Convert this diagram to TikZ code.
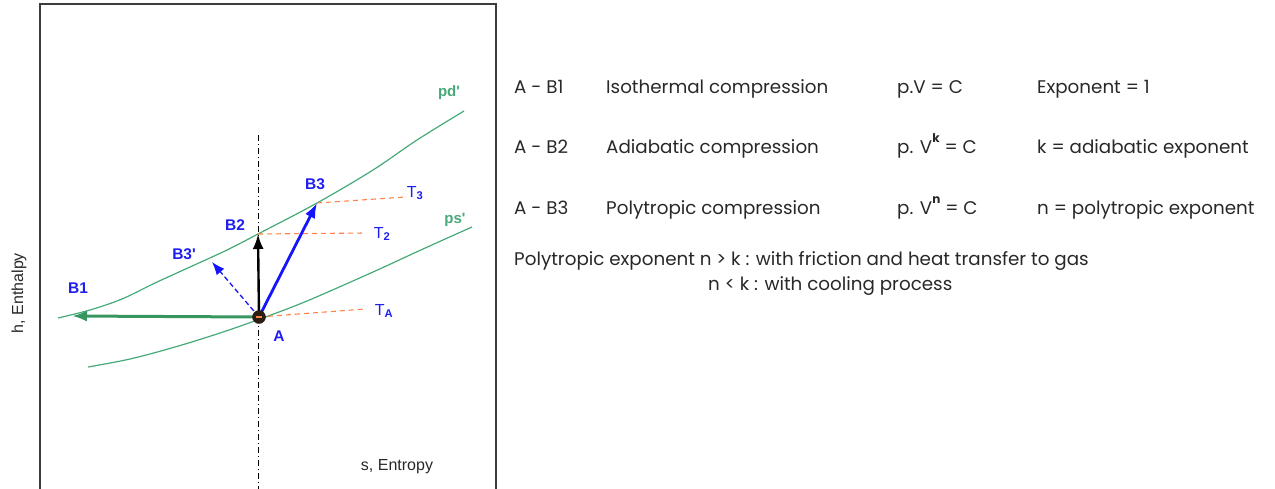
\documentclass[tikz,border=0pt]{standalone}
\usepackage{fontspec}
\usetikzlibrary{arrows.meta}
\newfontfamily\lgfont{Poppins}
\newfontfamily\arfont{Liberation Sans}
\definecolor{curvegreen}{RGB}{70,170,120}
\definecolor{arrgreen}{RGB}{55,150,95}
\definecolor{lblblue}{RGB}{30,30,240}
\definecolor{tblue}{RGB}{20,20,255}
\definecolor{dashorange}{RGB}{255,130,70}
\definecolor{boxgray}{RGB}{60,60,60}
\definecolor{legtext}{RGB}{40,40,40}
\definecolor{dotdark}{RGB}{45,30,20}
\newcommand{\hisup}[1]{\raisebox{0.55em}{\fontsize{12}{12}\selectfont\bfseries #1}}
\begin{document}
\begin{tikzpicture}[x=1pt,y=-1pt,
  curve/.style={curvegreen,line width=1.2pt},
  lbl/.style={font=\arfont\bfseries\fontsize{15.5}{15.5}\selectfont,text=lblblue,inner sep=0pt},
  glbl/.style={font=\arfont\bfseries\fontsize{15}{15}\selectfont,text=curvegreen,inner sep=0pt},
  tlbl/.style={font=\arfont\fontsize{16}{16}\selectfont,text=lblblue,inner sep=0pt},
  orangedash/.style={dashorange,line width=1.1pt,dash pattern=on 5pt off 4pt},
  leg/.style={font=\lgfont\fontsize{18.3}{18.3}\selectfont,text=legtext,anchor=base west,inner sep=0pt},
  axlbl/.style={font=\arfont\fontsize{16}{16}\selectfont,text=legtext,inner sep=0pt},
  tip/.style={-{Latex[length=15pt,width=11pt]}}
]
\useasboundingbox (0,0) rectangle (1275,488);
% frame
\draw[boxgray,line width=2.4pt] (40,490) -- (40,4) -- (496,4) -- (496,490);
% axis labels
\node[axlbl,rotate=90] (hlab) at (19,293) {h, Enthalpy};
\node[axlbl] (slab) at (397,467) {s, Entropy};
% vertical dash-dot line
\coordinate (vtop) at (258,135);
\coordinate (vbot) at (258,490);
\draw[black,line width=1pt,dash pattern=on 6pt off 3pt on 1pt off 3pt] (vtop) -- (vbot);
% curves
\draw[curve] plot[smooth,tension=0.55] coordinates {(58,318) (90,310) (122,299) (155,283) (190,267) (227,250) (258,234) (317,203) (373,170) (417,140) (464,111)};
\draw[curve] plot[smooth,tension=0.55] coordinates {(88,367) (130,359) (175,347) (220,333) (260,319) (307,301) (373,272) (423,249) (472,227)};
\node[glbl] (pd) at (449,93) {pd'};
\node[glbl] (ps) at (455,220) {ps'};
% points
\coordinate (B1) at (72,316);
\coordinate (B2) at (258,234);
\coordinate (B3) at (317,203);
\coordinate (B3p) at (212,262);
\coordinate (T3e) at (405,197);
\coordinate (T2e) at (365,233);
\coordinate (TAe) at (365,309);
\coordinate (Ac) at (259,317);
% orange dashed isotherms
\draw[orangedash] (B3) -- (T3e);
\draw[orangedash] (B2) -- (T2e);
\draw[orangedash] (Ac) -- (TAe);
% arrows
\draw[arrgreen,line width=3pt,tip] (Ac) -- (B1);
\draw[black,line width=2.4pt,tip] (Ac) -- (B2);
\draw[tblue,line width=2.8pt,tip] (Ac) -- (B3);
\draw[tblue,line width=1.3pt,dash pattern=on 5pt off 3pt,-{Latex[length=13pt,width=10pt]}] (Ac) -- (B3p);
% point A
\node[circle,fill=dotdark,draw=dotdark!70!black,minimum size=13pt,inner sep=0pt] (A) at (Ac) {};
\draw[dashorange,line width=1.2pt] ([xshift=-3pt]A.center) -- ([xshift=3pt]A.center);
% labels
\node[lbl] (lB1) at (78,288) {B1};
\node[lbl] (lB2) at (235,225) {B2};
\node[lbl] (lB3p) at (184,254) {B3'};
\node[lbl] (lB3) at (315,184) {B3};
\node[lbl] (lA) at (279,336) {A};
\node[tlbl] (lT3) at (415,193) {T\textsubscript{\bfseries 3}};
\node[tlbl] (lT2) at (382,234) {T\textsubscript{\bfseries 2}};
\node[tlbl] (lTA) at (384,311) {T\textsubscript{\bfseries A}};
% legend
\node[leg] (r1a) at (514,93) {A - B1};
\node[leg] (r1b) at (606,93) {Isothermal compression};
\node[leg] (r1c) at (897,93) {p.V = C};
\node[leg] (r1d) at (1037,93) {Exponent = 1};
\node[leg] (r2a) at (514,153) {A - B2};
\node[leg] (r2b) at (606,153) {Adiabatic compression};
\node[leg] (r2c) at (897,153) {p. V\hisup{k} = C};
\node[leg] (r2d) at (1037,153) {k = adiabatic exponent};
\node[leg] (r3a) at (514,214) {A - B3};
\node[leg] (r3b) at (606,214) {Polytropic compression};
\node[leg] (r3c) at (897,214) {p. V\hisup{n} = C};
\node[leg] (r3d) at (1037,214) {n = polytropic exponent};
\node[leg] (r4) at (514,265) {Polytropic exponent n > k : with friction and heat transfer to gas};
\node[leg] (r5) at (708,290) {n < k : with cooling process};
\end{tikzpicture}
\end{document}
